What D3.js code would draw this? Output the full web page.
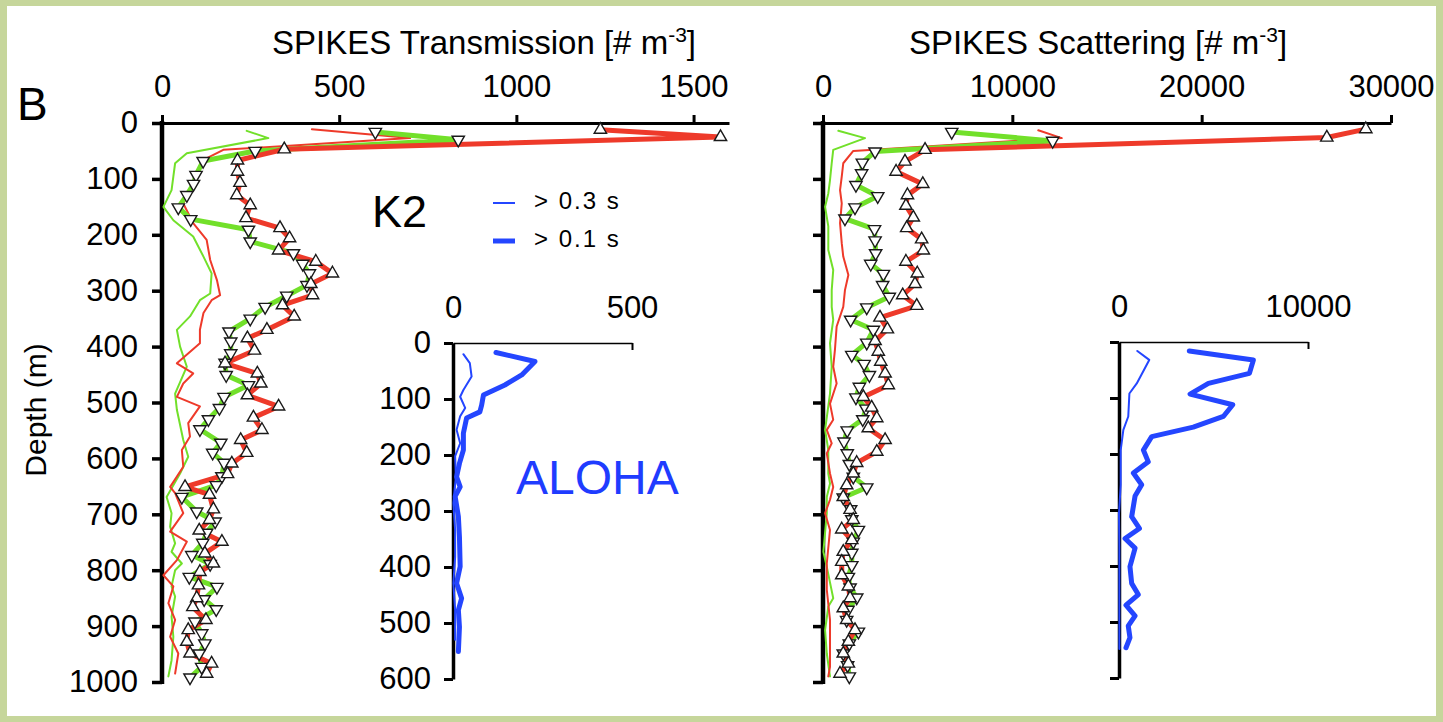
<!DOCTYPE html>
<html>
<head>
<meta charset="utf-8">
<script src="https://cdn.jsdelivr.net/npm/d3@7"></script>
<style>
  body { margin: 0; background: #fff; }
  text { font-family: "Liberation Sans", Arial, Helvetica, sans-serif; }
</style>
</head>
<body>
<svg id="chart" width="1443" height="722"></svg>
<script>
// ---- K2, SPIKES Transmission [# m-3] ----
var transRedThinDepth = [11, 27, 48, 66, 90, 114, 144, 179, 209, 245, 281, 308, 317, 340, 370, 394, 430, 448, 466, 490, 507, 537, 561, 585, 615, 651, 662, 698, 731, 749, 782, 809, 829, 859, 889, 919, 949, 985];
var transRedThinValue = [423, 700, 173, 117, 98, 84, 60, 88, 126, 136, 155, 164, 140, 117, 107, 107, 42, 88, 60, 42, 107, 74, 79, 56, 60, 23, 37, 60, 23, 70, 42, 4, 32, 18, 37, 23, 46, 37];
var transGreenThinDepth = [14, 27, 54, 72, 96, 120, 150, 174, 203, 239, 269, 305, 317, 346, 370, 400, 436, 484, 513, 567, 597, 627, 669, 698, 722, 752, 767, 788, 800, 829, 847, 883, 919, 961, 990];
var transGreenThinValue = [239, 300, 70, 37, 32, 27, 4, 32, 88, 117, 140, 136, 107, 79, 42, 51, 70, 37, 42, 60, 74, 51, 13, 27, 23, 37, 27, 56, 37, 27, 37, 27, 32, 27, 18];
var transRedThickDepth = [12, 25, 47, 67, 87, 107, 129, 147, 170, 188, 206, 228, 248, 269, 288, 308, 326, 346, 370, 385, 407, 430, 448, 466, 487, 507, 527, 549, 567, 590, 609, 628, 651, 665, 691, 710, 729, 749, 770, 788, 803, 827, 850, 866, 889, 907, 928, 949, 967, 985];
var transRedThickValue = [1237, 1576, 345, 213, 213, 220, 211, 249, 237, 333, 360, 329, 434, 481, 420, 425, 340, 373, 296, 241, 261, 178, 269, 279, 241, 329, 258, 282, 222, 239, 197, 185, 65, 134, 145, 134, 105, 169, 121, 145, 107, 103, 98, 87, 124, 74, 70, 79, 140, 126];
var transGreenThickDepth = [16, 30, 50, 68, 93, 109, 129, 151, 172, 191, 212, 233, 252, 269, 290, 309, 329, 350, 373, 391, 412, 429, 451, 469, 490, 510, 530, 548, 572, 590, 608, 632, 648, 669, 695, 713, 733, 751, 773, 789, 812, 830, 852, 870, 892, 913, 931, 949, 973, 992];
var transGreenThickValue = [602, 836, 263, 116, 96, 89, 70, 46, 81, 244, 249, 371, 397, 416, 409, 352, 291, 249, 189, 194, 194, 178, 181, 244, 175, 162, 131, 107, 166, 143, 175, 169, 153, 56, 98, 150, 126, 115, 84, 136, 77, 155, 119, 153, 93, 112, 121, 105, 112, 79];

// ---- K2, SPIKES Scattering [# m-3] ----
var scatRedThinDepth = [13, 27, 50, 72, 96, 120, 144, 179, 215, 239, 272, 299, 329, 364, 406, 436, 466, 502, 531, 549, 573, 591, 627, 651, 674, 698, 728, 788, 835, 889, 937, 973, 990];
var scatRedThinValue = [11370, 12610, 1600, 1070, 990, 900, 990, 900, 990, 1070, 1340, 1160, 1070, 720, 630, 540, 720, 370, 540, 200, 460, 200, 370, 540, 370, 110, 370, 200, 200, 370, 370, 370, 280];
var scatGreenThinDepth = [14, 27, 48, 72, 102, 126, 150, 185, 227, 263, 299, 329, 352, 394, 436, 484, 549, 585, 627, 645, 669, 698, 767, 794, 850, 865, 907, 949, 990];
var scatGreenThinValue = [810, 2220, 540, 460, 370, 280, 110, 280, 280, 540, 460, 460, 540, 370, 460, 370, 110, 280, 280, 370, 200, 200, 20, 200, 540, 280, 110, 200, 370];
var scatRedThickDepth = [11, 26, 48, 69, 87, 109, 129, 148, 169, 188, 208, 228, 248, 269, 288, 308, 327, 348, 369, 390, 409, 427, 448, 469, 490, 509, 528, 546, 567, 588, 608, 627, 648, 669, 692, 710, 727, 746, 767, 785, 809, 829, 850, 868, 889, 907, 928, 949, 967, 985];
var scatRedThickValue = [28670, 26610, 5390, 4330, 3860, 5270, 4460, 4380, 4770, 4420, 5210, 5300, 4380, 4980, 4860, 4210, 4950, 3010, 3400, 2750, 2920, 3050, 3280, 3450, 2130, 2570, 2840, 2390, 3280, 2840, 1780, 1600, 1250, 1070, 1430, 1600, 990, 1520, 1070, 990, 990, 1340, 1430, 1070, 1250, 1690, 1340, 1070, 1340, 900];
var scatGreenThickDepth = [16, 32, 51, 71, 90, 111, 131, 151, 171, 190, 210, 233, 252, 270, 290, 311, 330, 352, 370, 393, 415, 431, 451, 472, 491, 511, 530, 550, 570, 591, 610, 633, 652, 670, 691, 709, 728, 749, 769, 791, 812, 831, 849, 871, 889, 910, 931, 949, 970, 990];
var scatGreenThickValue = [6800, 12130, 2750, 2080, 2040, 1740, 2890, 1690, 1160, 2720, 2750, 2780, 2520, 3190, 3150, 3500, 2310, 1460, 2660, 2310, 1520, 2170, 2450, 1920, 1740, 2270, 2100, 1280, 1110, 1280, 1390, 1600, 2310, 1070, 1460, 1520, 1870, 1600, 1520, 1520, 1340, 1430, 1780, 1320, 1250, 1870, 1390, 1070, 1300, 1390];

// ---- ALOHA insets ----
var alohaTransThickDepth = [17, 33, 57, 75, 93, 111, 123, 134, 161, 191, 215, 239, 257, 274, 310, 346, 399, 429, 456, 477, 507, 551];
var alohaTransThickValue = [120, 229, 192, 145, 85, 80, 75, 38, 29, 29, 18, 10, 20, 6, 15, 18, 20, 10, 24, 15, 18, 15];
var alohaTransThinDepth = [20, 36, 60, 84, 96, 116, 131, 155, 179, 202, 239, 286, 334, 382, 429, 477, 530];
var alohaTransThinValue = [29, 47, 52, 29, 20, 34, 20, 10, 20, 6, 8, 1, 6, 6, 1, 6, 6];
var alohaScatThickDepth = [16, 32, 56, 74, 93, 112, 133, 152, 169, 193, 214, 234, 255, 275, 312, 333, 351, 368, 401, 431, 451, 470, 489, 507, 528, 546];
var alohaScatThickValue = [3720, 7110, 6900, 4730, 3760, 6020, 5520, 3930, 1730, 1290, 1550, 760, 1200, 850, 670, 1080, 320, 850, 580, 670, 1020, 370, 850, 490, 580, 370];
var alohaScatThinDepth = [16, 32, 74, 92, 133, 157, 193, 255, 306, 366, 425, 483, 548];
var alohaScatThinValue = [970, 1600, 940, 550, 490, 230, 90, 90, 0, 20, 20, 20, 20];

// axis ticks
var mainDepthTicks = [0, 100, 200, 300, 400, 500, 600, 700, 800, 900, 1000];
var insetDepthTicks = [0, 100, 200, 300, 400, 500, 600];
var transTicks = [0, 500, 1000, 1500];
var scatTicks = [0, 10000, 20000, 30000];

var RED = '#ee3a2a', GREEN = '#72e02a', BLUE = '#2446ff';

var svg = d3.select('#chart');
svg.append('rect').attr('width', 1443).attr('height', 722).attr('fill', '#c6d69b');
svg.append('rect').attr('x', 7).attr('y', 6).attr('width', 1429).attr('height', 710).attr('fill', 'white');

function zip(depths, values) {
  return depths.map((d, i) => [values[i], d]);
}

function drawLine(g, x, y, pts, color, width) {
  var line = d3.line().x(p => x(p[0])).y(p => y(p[1]));
  g.append('path').datum(pts)
    .attr('d', line)
    .attr('fill', 'none').attr('stroke', color).attr('stroke-width', width)
    .attr('stroke-linejoin', 'round').attr('stroke-linecap', 'round');
}

function drawMarkers(g, x, y, pts, down) {
  var sym = d3.symbol().type(d3.symbolTriangle).size(66);
  g.selectAll(null).data(pts).enter().append('path')
    .attr('d', sym)
    .attr('transform', p => 'translate(' + x(p[0]) + ',' + y(p[1]) + ')' + (down ? ' rotate(180)' : ''))
    .attr('fill', 'white').attr('stroke', '#1a1a1a').attr('stroke-width', 1.4);
}

function styleAxis(g, domainW, tickW) {
  g.select('.domain').attr('stroke', 'black').attr('stroke-width', domainW);
  g.selectAll('.tick line').attr('stroke', 'black').attr('stroke-width', tickW);
  g.selectAll('.tick text').attr('fill', 'black')
    .style('font-family', '"Liberation Sans", Arial, Helvetica, sans-serif')
    .style('font-size', '31px');
}

// main panels
function mainPanel(x0, x1, maxV, ticks, showDepthLabels, series) {
  var x = d3.scaleLinear().domain([0, maxV]).range([x0, x1]);
  var y = d3.scaleLinear().domain([0, 1000]).range([123, 682]);
  var g = svg.append('g');

  var ax = g.append('g').attr('transform', 'translate(0,123)')
    .call(d3.axisTop(x).tickValues(ticks).tickSize(8).tickSizeOuter(0).tickPadding(18).tickFormat(d3.format('d')));
  styleAxis(ax, 3, 3);

  var ay = g.append('g').attr('transform', 'translate(' + x0 + ',0)')
    .call(d3.axisLeft(y).tickValues(mainDepthTicks).tickSize(10).tickSizeOuter(0).tickPadding(14)
      .tickFormat(showDepthLabels ? d3.format('d') : ''));
  styleAxis(ay, 4.5, 3.5);
  ay.select('.domain').attr('d', 'M0,121V684');

  drawLine(g, x, y, series.greenThin, GREEN, 2);
  drawLine(g, x, y, series.redThin, RED, 2);
  drawLine(g, x, y, series.greenThick, GREEN, 5);
  drawLine(g, x, y, series.redThick, RED, 5);
  drawMarkers(g, x, y, series.greenThick, true);
  drawMarkers(g, x, y, series.redThick, false);
}

function insetPanel(x0, x1, y0, maxV, ticks, showDepthLabels, thin, thick) {
  var x = d3.scaleLinear().domain([0, maxV]).range([x0, x1]);
  var y = d3.scaleLinear().domain([0, 600]).range([y0, y0 + 336]);
  var g = svg.append('g');

  var ax = g.append('g').attr('transform', 'translate(0,' + y0 + ')')
    .call(d3.axisTop(x).tickValues(ticks).tickSize(-7).tickSizeOuter(0).tickPadding(25).tickFormat(d3.format('d')));
  styleAxis(ax, 1.6, 2);
  ax.selectAll('.tick').filter(d => d === 0).select('line').remove();

  var ay = g.append('g').attr('transform', 'translate(' + x0 + ',0)')
    .call(d3.axisLeft(y).tickValues(insetDepthTicks).tickSize(9).tickSizeOuter(0).tickPadding(13)
      .tickFormat(showDepthLabels ? d3.format('d') : ''));
  styleAxis(ay, 3.5, 3);

  drawLine(g, x, y, thin, BLUE, 2);
  drawLine(g, x, y, thick, BLUE, 5);
}

mainPanel(162, 729, 1600, transTicks, true, {
  redThin: zip(transRedThinDepth, transRedThinValue),
  greenThin: zip(transGreenThinDepth, transGreenThinValue),
  redThick: zip(transRedThickDepth, transRedThickValue),
  greenThick: zip(transGreenThickDepth, transGreenThickValue)
});

mainPanel(823, 1391, 30000, scatTicks, false, {
  redThin: zip(scatRedThinDepth, scatRedThinValue),
  greenThin: zip(scatGreenThinDepth, scatGreenThinValue),
  redThick: zip(scatRedThickDepth, scatRedThickValue),
  greenThick: zip(scatGreenThickDepth, scatGreenThickValue)
});

insetPanel(453, 632, 343, 500, [0, 500], true,
  zip(alohaTransThinDepth, alohaTransThinValue), zip(alohaTransThickDepth, alohaTransThickValue));
insetPanel(1119, 1308, 342, 10000, [0, 10000], false,
  zip(alohaScatThinDepth, alohaScatThinValue), zip(alohaScatThickDepth, alohaScatThickValue));

// titles
function title(xc, label) {
  var t = svg.append('text').attr('x', xc).attr('y', 54).attr('text-anchor', 'middle')
    .attr('font-size', 33).attr('fill', 'black');
  t.append('tspan').text(label + ' [# m');
  t.append('tspan').attr('dy', -12).attr('font-size', 21).text('-3');
  t.append('tspan').attr('dy', 12).text(']');
}
title(484, 'SPIKES Transmission');
title(1098, 'SPIKES Scattering');

svg.append('text').attr('x', 17).attr('y', 120).attr('font-size', 46).text('B');
svg.append('text').attr('transform', 'translate(46,410) rotate(-90)').attr('text-anchor', 'middle')
  .attr('font-size', 30).text('Depth (m)');
svg.append('text').attr('x', 372).attr('y', 227).attr('font-size', 45).text('K2');

// legend
svg.append('line').attr('x1', 493).attr('x2', 515).attr('y1', 203).attr('y2', 203)
  .attr('stroke', BLUE).attr('stroke-width', 2);
svg.append('line').attr('x1', 493).attr('x2', 515).attr('y1', 241).attr('y2', 241)
  .attr('stroke', BLUE).attr('stroke-width', 5);
svg.append('text').attr('x', 534).attr('y', 209).attr('font-size', 24).attr('letter-spacing', 2).text('> 0.3 s');
svg.append('text').attr('x', 534).attr('y', 247).attr('font-size', 24).attr('letter-spacing', 2).text('> 0.1 s');

svg.append('text').attr('x', 516).attr('y', 494).attr('font-size', 48).attr('fill', '#1f3cff').text('ALOHA');
</script>
</body>
</html>
